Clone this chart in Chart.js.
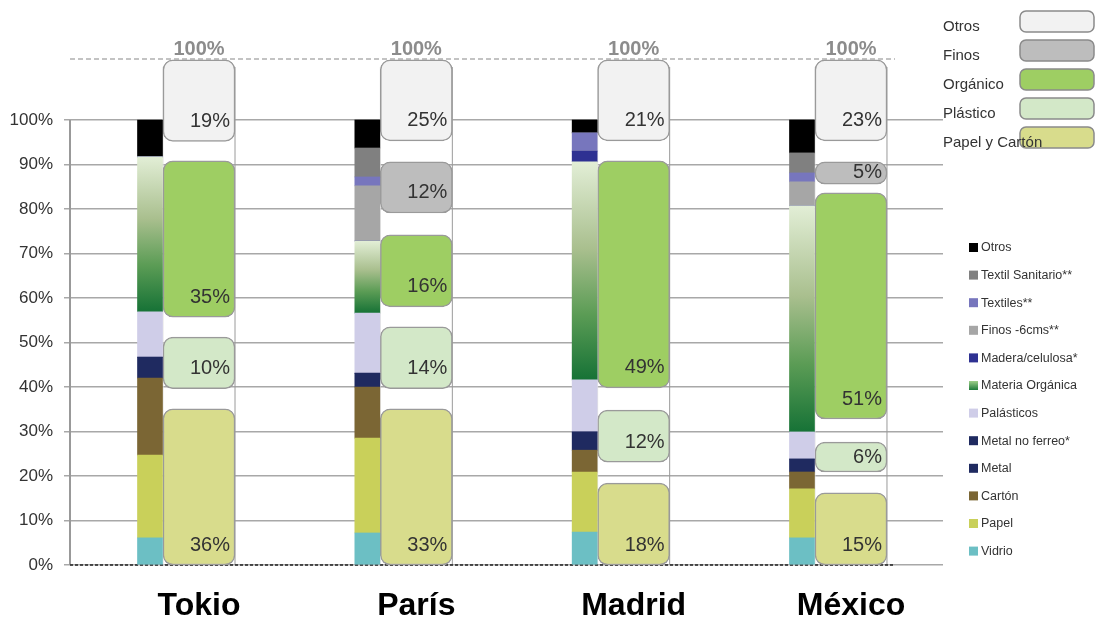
<!DOCTYPE html>
<html>
<head>
<meta charset="utf-8">
<script src="https://cdn.jsdelivr.net/npm/chart.js@4.4.1/dist/chart.umd.min.js"></script>
<style>
  html, body { margin: 0; padding: 0; background: #fff; }
  #wrap { width: 1096px; height: 622px; }
</style>
</head>
<body>
<div id="wrap"><canvas id="chart" width="1096" height="622"></canvas></div>
<script>
const cities = ['Tokio', 'París', 'Madrid', 'México'];
const yTicks = [0, 10, 20, 30, 40, 50, 60, 70, 80, 90, 100];

// Composición detallada (barra estrecha), de abajo arriba, en %
const vidrio = [6.1, 7.2, 7.4, 6.1];
const papel = [18.6, 21.3, 13.5, 11.0];
const carton = [17.3, 11.5, 4.9, 3.8];
const metal = [4.7, 3.1, 4.1, 2.9];
const metalNoFerreo = [0, 0, 0, 0];
const palasticos = [10.2, 13.5, 11.7, 6.1];
const materiaOrganica = [34.8, 16.2, 49.0, 50.8];
const madera = [0, 0, 2.4, 0];
const finos6 = [0, 12.4, 0, 5.4];
const textiles = [0, 2.0, 4.1, 2.0];
const textilSanitario = [0, 6.5, 0, 4.5];
const otros = [8.3, 6.3, 2.9, 7.4];

const detailLabels = ['Vidrio', 'Papel', 'Cartón', 'Metal', 'Metal no ferreo*', 'Palásticos',
  'Materia Orgánica', 'Madera/celulosa*', 'Finos -6cms**', 'Textiles**', 'Textil Sanitario**', 'Otros'];
const detailValues = [vidrio, papel, carton, metal, metalNoFerreo, palasticos,
  materiaOrganica, madera, finos6, textiles, textilSanitario, otros];
const detailColors = ['#6cbfc4', '#c9d05a', '#7b6634', '#1f2a60', '#1f2a60', '#cfcde8',
  null, '#2e3192', '#a6a6a6', '#7776bd', '#808080', '#000000'];

// Resumen (caja ancha): porcentaje rotulado
const summaryLabels = ['Papel y Cartón', 'Plástico', 'Orgánico', 'Finos', 'Otros'];
const papelCartonPct = [36, 33, 18, 15];
const plasticoPct = [10, 14, 12, 6];
const organicoPct = [35, 16, 49, 51];
const finosPct = [null, 12, null, 5];
const otrosPct = [19, 25, 21, 23];

// extensión de cada caja tal como aparece en el gráfico (unidades del eje)
const papelCartonBox = [[0, 35.1], [0, 35.1], [0, 18.4], [0, 16.2]];
const plasticoBox = [[39.6, 51.2], [39.6, 53.5], [23.1, 34.8], [20.9, 27.6]];
const organicoBox = [[55.7, 90.8], [58.0, 74.2], [39.8, 90.8], [32.8, 83.6]];
const finosBox = [null, [79.1, 90.6], null, [85.6, 90.6]];
const otrosBox = [[95.2, 113.5], [95.3, 113.5], [95.3, 113.5], [95.3, 113.5]];

const summaryPct = [papelCartonPct, plasticoPct, organicoPct, finosPct, otrosPct];
const summaryBox = [papelCartonBox, plasticoBox, organicoBox, finosBox, otrosBox];
const summaryColors = ['#d8dc8c', '#d3e8c8', '#9ece63', '#bdbdbd', '#f2f2f2'];

const Y_MAX = 113.7;
const FONT = '"Liberation Sans", Arial, sans-serif';
Chart.defaults.font.family = FONT;

function organicFill(context) {
  const chart = context.chart;
  const {ctx, chartArea, scales} = chart;
  if (!chartArea || context.type !== 'data') return '#4a9a4e';
  const i = context.dataIndex;
  const idx = detailValues.indexOf(materiaOrganica);
  let below = 0;
  for (let k = 0; k < idx; k++) below += detailValues[k][i];
  const y0 = scales.y.getPixelForValue(below);
  const y1 = scales.y.getPixelForValue(below + materiaOrganica[i]);
  const g = ctx.createLinearGradient(0, y0, 0, y1);
  g.addColorStop(0, '#167236');
  g.addColorStop(0.3, '#5b9c55');
  g.addColorStop(0.6, '#a9bf8e');
  g.addColorStop(1, '#e2eed6');
  return g;
}

const detailDatasets = detailLabels.map((lbl, k) => ({
  label: lbl,
  data: detailValues[k].map((v, i) => ({x: i, y: v})),
  backgroundColor: detailColors[k] || organicFill,
  xAxisID: 'xn',
  yAxisID: 'y',
  stack: 'detalle',
  grouped: false,
  barThickness: 25,
  borderWidth: 0
}));

const wideDatasets = summaryLabels.map((lbl, k) => ({
  label: lbl,
  pct: summaryPct[k],
  data: summaryBox[k].map((b, i) => (b ? {x: i, y: b} : null)).filter(Boolean),
  backgroundColor: summaryColors[k],
  borderColor: '#9a9a9a',
  borderWidth: 1.5,
  borderRadius: 10,
  borderSkipped: false,
  xAxisID: 'x',
  yAxisID: 'yw',
  grouped: false,
  barThickness: 72,
  clip: false
}));

function roundBox(ctx, x, y, w, h, r, fill) {
  ctx.beginPath();
  ctx.roundRect(x, y, w, h, r);
  ctx.fillStyle = fill;
  ctx.fill();
  ctx.lineWidth = 1.5;
  ctx.strokeStyle = '#8a8a8a';
  ctx.stroke();
}

const decorPlugin = {
  id: 'decor',
  beforeDatasetsDraw(chart) {
    const {ctx, chartArea, scales} = chart;
    const y = scales.y, x = scales.x;
    ctx.save();
    // contorno de la columna ancha
    cities.forEach((c, i) => {
      const cx = x.getPixelForValue(i);
      ctx.lineWidth = 1;
      ctx.strokeStyle = '#e2e2e2';
      ctx.beginPath(); ctx.moveTo(cx - 36, chartArea.top + 8); ctx.lineTo(cx - 36, y.getPixelForValue(0)); ctx.stroke();
      ctx.strokeStyle = '#9a9a9a';
      ctx.beginPath(); ctx.moveTo(cx + 36, chartArea.top + 8); ctx.lineTo(cx + 36, y.getPixelForValue(0)); ctx.stroke();
    });
    // eje vertical
    ctx.strokeStyle = '#999';
    ctx.lineWidth = 2;
    ctx.beginPath();
    ctx.moveTo(chartArea.left, y.getPixelForValue(100));
    ctx.lineTo(chartArea.left, y.getPixelForValue(0));
    ctx.stroke();
    // líneas discontinuas 0% y total
    ctx.lineWidth = 1.5;
    ctx.setLineDash([5, 3]);
    ctx.strokeStyle = '#b0b0b0';
    ctx.beginPath();
    ctx.moveTo(chartArea.left, chartArea.top);
    ctx.lineTo(895, chartArea.top);
    ctx.stroke();
    ctx.setLineDash([3, 2]);
    ctx.strokeStyle = '#222';
    ctx.beginPath();
    ctx.moveTo(chartArea.left, y.getPixelForValue(0));
    ctx.lineTo(893, y.getPixelForValue(0));
    ctx.stroke();
    ctx.restore();
  },
  afterDatasetsDraw(chart) {
    const {ctx, chartArea, scales} = chart;
    ctx.save();
    ctx.font = '20px ' + FONT;
    ctx.textBaseline = 'middle';
    ctx.textAlign = 'right';
    ctx.fillStyle = '#333';
    chart.data.datasets.forEach((ds, k) => {
      if (!ds.pct) return;
      const meta = chart.getDatasetMeta(k);
      meta.data.forEach((el, j) => {
        const i = ds.data[j].x;
        const v = ds.pct[i];
        if (v == null) return;
        const h = el.base - el.y;
        const cy = el.base - Math.min(20, h / 2);
        ctx.fillText(v + '%', el.x + el.width / 2 - 5, cy);
      });
    });
    // total 100% sobre cada columna
    ctx.font = 'bold 20px ' + FONT;
    ctx.textAlign = 'center';
    ctx.fillStyle = '#8c8c8c';
    cities.forEach((c, i) => {
      ctx.fillText('100%', scales.x.getPixelForValue(i), chartArea.top - 10);
    });
    ctx.restore();
  },
  afterDraw(chart) {
    const ctx = chart.ctx;
    ctx.save();
    ctx.textBaseline = 'middle';
    ctx.textAlign = 'left';
    // leyenda del resumen
    ctx.font = '15px ' + FONT;
    summaryLabels.slice().reverse().forEach((lbl, r) => {
      const k = summaryLabels.length - 1 - r;
      const cy = 27 + 29 * r;
      roundBox(ctx, 1020, cy - 16, 74, 21, 6, summaryColors[k]);
      ctx.fillStyle = '#333';
      ctx.fillText(lbl, 943, cy);
    });
    // leyenda del detalle
    ctx.font = '12.5px ' + FONT;
    detailLabels.slice().reverse().forEach((lbl, r) => {
      const k = detailLabels.length - 1 - r;
      const cy = 247 + 27.6 * r;
      let fill = detailColors[k];
      if (!fill) {
        const g = ctx.createLinearGradient(0, cy - 4, 0, cy + 5);
        g.addColorStop(0, '#9fd08a');
        g.addColorStop(1, '#1e7a3a');
        fill = g;
      }
      ctx.fillStyle = fill;
      ctx.fillRect(969, cy - 4, 9, 9);
      ctx.fillStyle = '#333';
      ctx.fillText(lbl, 981, cy + 1);
    });
    ctx.restore();
  }
};

new Chart(document.getElementById('chart'), {
  type: 'bar',
  data: { datasets: [...detailDatasets, ...wideDatasets] },
  options: {
    responsive: false,
    animation: false,
    layout: { padding: { top: 59, right: 153, bottom: 0, left: 0 } },
    plugins: { legend: { display: false }, tooltip: { enabled: false } },
    scales: {
      x: {
        type: 'linear',
        offset: false,
        min: -0.5936,
        max: 3.4234,
        grid: { display: false, drawTicks: false, offset: false },
        border: { display: false },
        afterBuildTicks: (s) => { s.ticks = cities.map((c, i) => ({ value: i })); },
        afterFit: (s) => { s.height = 57; },
        ticks: {
          autoSkip: false,
          maxRotation: 0,
          padding: 22,
          color: '#000',
          font: { size: 32, weight: 'bold' },
          callback: (v, i) => cities[i]
        }
      },
      xn: {
        type: 'linear',
        display: false,
        offset: false,
        stacked: true,
        min: -0.5936 + 0.2255,
        max: 3.4234 + 0.2255
      },
      y: {
        type: 'linear',
        stacked: true,
        min: 0,
        max: Y_MAX,
        afterBuildTicks: (s) => { s.ticks = yTicks.map(v => ({ value: v })); },
        afterFit: (s) => { s.width = 70; },
        grid: { color: '#a8a8a8', lineWidth: 1.5, tickLength: 6 },
        border: { display: false },
        ticks: {
          padding: 11,
          color: '#333',
          font: { size: 17 },
          callback: (v) => v + '%'
        }
      },
      yw: {
        type: 'linear',
        display: false,
        min: 0,
        max: Y_MAX
      }
    }
  },
  plugins: [decorPlugin]
});
</script>
</body>
</html>
